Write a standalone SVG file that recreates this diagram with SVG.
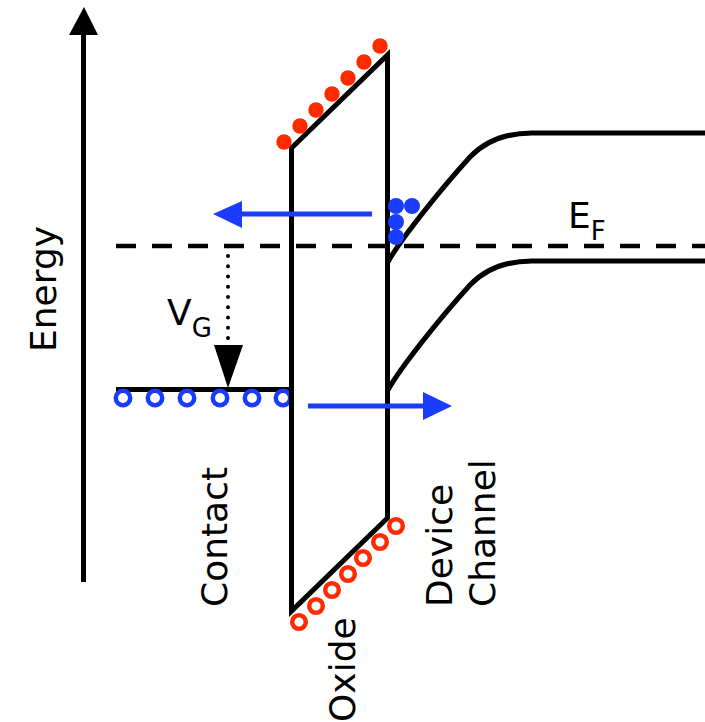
<svg xmlns="http://www.w3.org/2000/svg" width="705" height="722" viewBox="0 0 705 722">
<style>
.ln{fill:none;stroke:#000;stroke-width:5}
.t{font-family:"DejaVu Sans",sans-serif;font-size:36px;fill:#000}
.s{font-size:26px}
.bl{stroke:#1a3cff;stroke-width:5;fill:none}
.rf{fill:#ff2a00}
.ro{fill:none;stroke:#ff2a00;stroke-width:4.5}
.bf{fill:#1a3cff}
.bo{fill:none;stroke:#1a3cff;stroke-width:4.5}
</style>
<rect width="705" height="722" fill="#fff"/>
<g id="axis">
<line x1="83.5" y1="582" x2="83.5" y2="32" class="ln"/>
<polygon points="84,7 69,35 98,35" fill="#000"/>
<text class="t" transform="translate(56,352) rotate(-90)">Energy</text>
</g>
<g id="fermi">
<line x1="116" y1="246" x2="705" y2="246" stroke="#000" stroke-width="4.5" stroke-dasharray="20 16"/>
<text class="t" x="568" y="228">E<tspan class="s" dy="12">F</tspan></text>
</g>
<g id="contact">
<line x1="116" y1="389.5" x2="291" y2="389.5" class="ln"/>
<g class="bo">
<circle cx="123" cy="398" r="7.2"/><circle cx="155" cy="398" r="7.2"/><circle cx="187" cy="398" r="7.2"/><circle cx="220" cy="398" r="7.2"/><circle cx="252" cy="398" r="7.2"/><circle cx="283" cy="398" r="7.2"/>
</g>
<text class="t" transform="translate(227,607) rotate(-90)">Contact</text>
</g>
<g id="oxide">
<path d="M291.5,148 L291.5,611 L387.5,518 L387.5,55 Z" class="ln" stroke-linejoin="miter"/>
<g class="rf">
<circle cx="284" cy="142" r="7.7"/><circle cx="300" cy="126" r="7.7"/><circle cx="316" cy="110" r="7.7"/><circle cx="332" cy="94" r="7.7"/><circle cx="348" cy="78" r="7.7"/><circle cx="364" cy="62" r="7.7"/><circle cx="380" cy="46" r="7.7"/>
</g>
<g class="ro">
<circle cx="299" cy="622" r="6.8"/><circle cx="316" cy="606" r="6.8"/><circle cx="332" cy="590" r="6.8"/><circle cx="348" cy="574" r="6.8"/><circle cx="363" cy="558" r="6.8"/><circle cx="380" cy="542" r="6.8"/><circle cx="396" cy="526" r="6.8"/>
</g>
<text class="t" transform="translate(355,722) rotate(-90)">Oxide</text>
</g>
<g id="channel">
<path d="M388,262 C400,240 440,190 470,157 Q493,133 532,133 L705,133" class="ln"/>
<path d="M388,390 C400,368 440,318 470,285 Q493,261 532,261 L705,261" class="ln"/>
<g class="bf">
<circle cx="396" cy="206" r="8"/><circle cx="412" cy="206" r="8"/><circle cx="396" cy="222" r="8"/><circle cx="396" cy="237" r="8"/>
</g>
<text class="t" transform="translate(452,607) rotate(-90)">Device</text>
<text class="t" transform="translate(495,607) rotate(-90)">Channel</text>
</g>
<g id="connectors">
<line x1="228" y1="256" x2="228" y2="340" stroke="#000" stroke-width="4" stroke-linecap="round" stroke-dasharray="0 10.25"/>
<polygon points="214,345 243,345 228,388" fill="#000"/>
<line x1="372" y1="214" x2="240" y2="214" class="bl"/>
<polygon points="213,214 242,201 242,228" fill="#1a3cff"/>
<line x1="308" y1="406" x2="425" y2="406" class="bl"/>
<polygon points="452,406 423,392 423,420" fill="#1a3cff"/>
</g>
<text class="t" x="167" y="325">V<tspan class="s" dy="12">G</tspan></text>
</svg>
